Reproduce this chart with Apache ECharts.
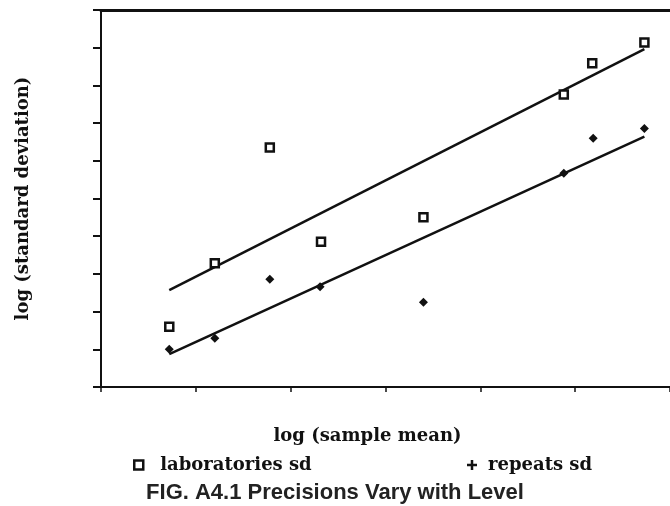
<!DOCTYPE html>
<html>
<head>
<meta charset="utf-8">
<script src="https://cdn.jsdelivr.net/npm/echarts@6/dist/echarts.min.js"></script>
<style>html,body{margin:0;padding:0;background:#fff}#c{width:670px;height:506px}</style>
</head>
<body>
<div id="c"></div>
<script>
// Data
var labX = [0.72, 1.20, 1.78, 2.32, 3.40, 4.88, 5.18, 5.73];
var labY = [1.60, 3.28, 6.35, 3.85, 4.50, 7.76, 8.59, 9.14];
var repX = [0.72, 1.20, 1.78, 2.31, 3.40, 4.88, 5.19, 5.73];
var repY = [1.00, 1.29, 2.86, 2.66, 2.25, 5.67, 6.60, 6.86];
var labFitX = [0.72, 5.73];
var labFitY = [2.57, 8.96];
var repFitX = [0.72, 5.73];
var repFitY = [0.87, 6.64];
var seriesNames = ['laboratories sd', 'repeats sd'];
var xAxisTitle = 'log (sample mean)';
var yAxisTitle = 'log (standard deviation)';
var caption = 'FIG. A4.1 Precisions Vary with Level';

function zip(a, b) { return a.map(function (v, i) { return [v, b[i]]; }); }

var serif = 'DejaVu Serif';
var chart = echarts.init(document.getElementById('c'), null, { renderer: 'canvas' });
chart.setOption({
  animation: false,
  backgroundColor: '#fff',
  title: {
    text: caption, left: 'center', top: 477,
    textStyle: { fontFamily: 'Liberation Sans', fontWeight: 'bold', fontSize: 22, color: '#222' }
  },
  legend: [
    {
      data: [{ name: seriesNames[0], icon: 'rect' }],
      left: 128, top: 451, itemWidth: 9, itemHeight: 9,
      itemStyle: { color: '#fff', borderColor: '#111', borderWidth: 2.5, opacity: 1 },
      textStyle: { fontFamily: serif, fontWeight: 'bold', fontSize: 18, color: '#111', padding: [0, 0, 0, 12] }
    },
    {
      data: [{ name: seriesNames[1], icon: 'path://M3,0h2v3h3v2h-3v3h-2v-3h-3v-2h3z' }],
      left: 462, top: 451, itemWidth: 10, itemHeight: 10,
      itemStyle: { color: '#111', opacity: 1 },
      textStyle: { fontFamily: serif, fontWeight: 'bold', fontSize: 18, color: '#111', padding: [0, 0, 0, 6] }
    }
  ],
  grid: { left: 101, top: 10, width: 571, height: 377, containLabel: false },
  xAxis: [
    {
      type: 'value', min: 0, max: 6, interval: 1, position: 'bottom',
      name: xAxisTitle, nameLocation: 'middle', nameGap: 40,
      nameTextStyle: { fontFamily: serif, fontWeight: 'bold', fontSize: 18, color: '#111', padding: [0, 36, 0, 0] },
      axisLine: { lineStyle: { color: '#111', width: 2 } },
      axisTick: { show: true, length: 5, lineStyle: { color: '#111', width: 1.5 } },
      axisLabel: { show: false }, splitLine: { show: false }
    },
    {
      type: 'value', min: 0, max: 6, position: 'top',
      axisLine: { onZero: false, lineStyle: { color: '#111', width: 3 } },
      axisTick: { show: false }, axisLabel: { show: false }, splitLine: { show: false }
    }
  ],
  yAxis: {
    type: 'value', min: 0, max: 10, interval: 1,
    name: yAxisTitle, nameLocation: 'middle', nameGap: 69, nameRotate: 90,
    nameTextStyle: { fontFamily: serif, fontWeight: 'bold', fontSize: 18, color: '#111', padding: [0, 0, 0, 0] },
    axisLine: { onZero: false, lineStyle: { color: '#111', width: 2 } },
    axisTick: { show: true, length: 8, lineStyle: { color: '#111', width: 2 } },
    axisLabel: { show: false }, splitLine: { show: false }
  },
  series: [
    {
      name: seriesNames[0], type: 'scatter', data: zip(labX, labY),
      symbol: 'rect', symbolSize: 8,
      itemStyle: { color: '#fff', borderColor: '#111', borderWidth: 2.5, opacity: 1 }
    },
    {
      name: seriesNames[1], type: 'scatter', data: zip(repX, repY),
      symbol: 'diamond', symbolSize: 9,
      itemStyle: { color: '#111', opacity: 1 }
    },
    {
      name: 'laboratories fit', type: 'line', data: zip(labFitX, labFitY),
      symbol: 'none', lineStyle: { color: '#111', width: 2.5 }, z: 1
    },
    {
      name: 'repeats fit', type: 'line', data: zip(repFitX, repFitY),
      symbol: 'none', lineStyle: { color: '#111', width: 2.5 }, z: 1
    }
  ]
});
</script>
</body>
</html>
